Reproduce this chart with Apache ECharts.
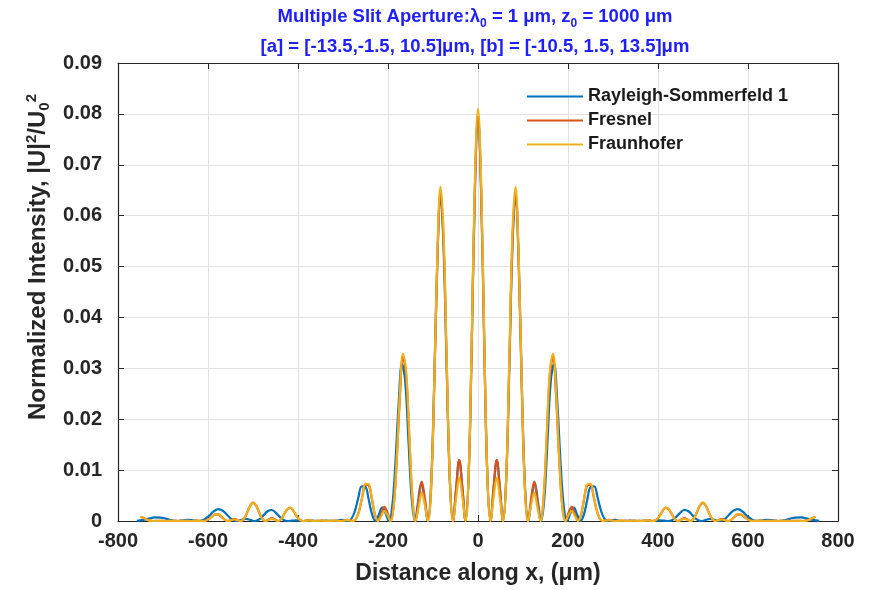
<!DOCTYPE html>
<html>
<head>
<meta charset="utf-8">
<script src="https://cdn.jsdelivr.net/npm/echarts@6/dist/echarts.min.js"></script>
<style>
html,body{margin:0;padding:0;background:#fff;}
#chart{width:869px;height:590px;}
</style>
</head>
<body>
<div id="chart"></div>
<script>
// Sample positions (µm) shared by the Fresnel and Fraunhofer curves
const distanceX = [
-750,-743.1,-736.1,-729.2,-722.2,-715.3,-708.3,-701.4,-694.4,-687.5,-680.6,-673.6,-666.7,-659.7,-652.8,-645.8,-638.9,-631.9,-625,-618.1,-611.1,-604.2,-597.2,-590.3,-583.3,-576.4,-569.4,-562.5,-555.6,-548.6,-541.7,-534.7,-527.8,-520.8,-513.9,-506.9,-500,-493.1,-486.1,-479.2,-472.2,-465.3,-458.3,-451.4,-444.4,-437.5,-430.6,-423.6,-416.7,-409.7,-402.8,-395.8,-388.9,-381.9,-375,-368.1,-361.1,-354.2,-347.2,-340.3,-333.3,-326.4,-319.4,-312.5,-305.6,-298.6,-291.7,-284.7,-277.8,-270.8,-263.9,-256.9,-250,-243.1,-236.1,-229.2,-222.2,-215.3,-208.3,-201.4,-194.4,-187.5,-180.6,-173.6,-166.7,-159.7,-152.8,-145.8,-138.9,-131.9,-125,-118.1,-111.1,-104.2,-97.2,-90.3,-83.3,-76.4,-69.4,-62.5,-55.6,-48.6,-41.7,-34.7,-27.8,-20.8,-13.9,-6.9,
0,
6.9,13.9,20.8,27.8,34.7,41.7,48.6,55.6,62.5,69.4,76.4,83.3,90.3,97.2,104.2,111.1,118.1,125,131.9,138.9,145.8,152.8,159.7,166.7,173.6,180.6,187.5,194.4,201.4,208.3,215.3,222.2,229.2,236.1,243.1,250,256.9,263.9,270.8,277.8,284.7,291.7,298.6,305.6,312.5,319.4,326.4,333.3,340.3,347.2,354.2,361.1,368.1,375,381.9,388.9,395.8,402.8,409.7,416.7,423.6,430.6,437.5,444.4,451.4,458.3,465.3,472.2,479.2,486.1,493.1,500,506.9,513.9,520.8,527.8,534.7,541.7,548.6,555.6,562.5,569.4,576.4,583.3,590.3,597.2,604.2,611.1,618.1,625,631.9,638.9,645.8,652.8,659.7,666.7,673.6,680.6,687.5,694.4,701.4,708.3,715.3,722.2,729.2,736.1,743.1,750
];

const fraunhoferI = [
0.00081,0.0006,0.00028,0.00006,0,0.00002,0.00003,0.00001,0,0.00001,0.00001,0.00001,0,0.00001,0.00002,0.00001,0,0.00001,0.00004,0.00003,0,0.00009,0.00042,0.00094,0.00134,0.00129,0.00079,0.00022,0,0.00015,0.00029,0.00017,0,0.00036,0.00151,0.00293,0.00365,0.0031,0.00169,0.00042,0,0.00022,0.00041,0.00021,0,0.00037,0.00138,0.00238,0.00263,0.00196,0.00093,0.0002,0,0.00007,0.00011,0.00004,0,0.00003,0.00006,0.00003,0,0.00003,0.00007,0.00004,0,0.00006,0.00017,0.00013,0,0.00043,0.00216,0.00498,0.00729,0.00724,0.00458,0.00133,0,0.00094,0.00199,0.0012,0,0.00277,0.01222,0.02498,0.03283,0.02952,0.01707,0.00458,0,0.0028,0.00553,0.00313,0,0.00646,0.02699,0.05245,0.06566,0.05634,0.03114,0.00801,0,0.0045,0.00855,0.00465,0,0.00889,0.03579,0.06708,
0.081,
0.06708,0.03579,0.00889,0,0.00465,0.00855,0.0045,0,0.00801,0.03114,0.05634,0.06566,0.05245,0.02699,0.00646,0,0.00313,0.00553,0.0028,0,0.00458,0.01707,0.02952,0.03283,0.02498,0.01222,0.00277,0,0.0012,0.00199,0.00094,0,0.00133,0.00458,0.00724,0.00729,0.00498,0.00216,0.00043,0,0.00013,0.00017,0.00006,0,0.00004,0.00007,0.00003,0,0.00003,0.00006,0.00003,0,0.00004,0.00011,0.00007,0,0.0002,0.00093,0.00196,0.00263,0.00238,0.00138,0.00037,0,0.00021,0.00041,0.00022,0,0.00042,0.00169,0.0031,0.00365,0.00293,0.00151,0.00036,0,0.00017,0.00029,0.00015,0,0.00022,0.00079,0.00129,0.00134,0.00094,0.00042,0.00009,0,0.00003,0.00004,0.00001,0,0.00001,0.00002,0.00001,0,0.00001,0.00001,0.00001,0,0.00001,0.00003,0.00002,0,0.00006,0.00028,0.0006,0.00081
];

const fresnelI = [
0.00079,0.00058,0.00027,0.00006,0,0.00003,0.00004,0.00001,0,0.00001,0.00001,0.00001,0,0.00001,0.00002,0.00001,0,0.00001,0.00006,0.00004,0,0.00009,0.00041,0.00091,0.00131,0.00125,0.00077,0.00022,0,0.00021,0.00041,0.00024,0,0.00036,0.00146,0.00284,0.00358,0.00301,0.00164,0.00042,0,0.00031,0.00057,0.00029,0,0.00037,0.00134,0.00231,0.00258,0.0019,0.0009,0.0002,0,0.0001,0.00015,0.00006,0,0.00003,0.00006,0.00003,0,0.00003,0.00007,0.00004,0,0.00008,0.00024,0.00018,0,0.00043,0.0021,0.00483,0.00714,0.00702,0.00444,0.00133,0,0.00132,0.00279,0.00168,0,0.00277,0.01185,0.02423,0.03217,0.02863,0.01656,0.00458,0,0.00392,0.00774,0.00438,0,0.00646,0.02618,0.05088,0.06435,0.05465,0.03021,0.00801,0,0.0063,0.01197,0.00651,0,0.00889,0.03472,0.06507,
0.07938,
0.06507,0.03472,0.00889,0,0.00651,0.01197,0.0063,0,0.00801,0.03021,0.05465,0.06435,0.05088,0.02618,0.00646,0,0.00438,0.00774,0.00392,0,0.00458,0.01656,0.02863,0.03217,0.02423,0.01185,0.00277,0,0.00168,0.00279,0.00132,0,0.00133,0.00444,0.00702,0.00714,0.00483,0.0021,0.00043,0,0.00018,0.00024,0.00008,0,0.00004,0.00007,0.00003,0,0.00003,0.00006,0.00003,0,0.00006,0.00015,0.0001,0,0.0002,0.0009,0.0019,0.00258,0.00231,0.00134,0.00037,0,0.00029,0.00057,0.00031,0,0.00042,0.00164,0.00301,0.00358,0.00284,0.00146,0.00036,0,0.00024,0.00041,0.00021,0,0.00022,0.00077,0.00125,0.00131,0.00091,0.00041,0.00009,0,0.00004,0.00006,0.00001,0,0.00001,0.00002,0.00001,0,0.00001,0.00001,0.00001,0,0.00001,0.00004,0.00003,0,0.00006,0.00027,0.00058,0.00079
];

// Rayleigh-Sommerfeld curve has its own sample positions (µm)
const rsX = [
-758.2,-744.6,-731.3,-718.2,-705.4,-692.7,-680.3,-668.2,-656.2,-644.4,-632.8,-621.4,-610.1,-599,-588.1,-577.4,-566.7,-556.3,-545.9,-535.7,-525.6,-515.7,-505.9,-496.1,-486.5,-477,-467.6,-458.4,-449.2,-440.1,-431,-422.1,-413.3,-404.5,-395.9,-387.2,-378.7,-370.3,-361.9,-353.6,-345.3,-337.1,-329,-320.9,-312.9,-304.9,-297,-289.2,-281.4,-273.6,-265.9,-258.2,-250.6,-243,-235.4,-227.9,-220.5,-213,-205.6,-198.2,-190.9,-183.6,-176.3,-169,-161.8,-154.6,-147.4,-140.3,-133.1,-126,-118.9,-111.8,-104.7,-97.7,-90.7,-83.6,-76.6,-69.6,-62.6,-55.6,-48.7,-41.7,-34.7,-27.8,-20.8,-13.9,-6.9,
0,
6.9,13.9,20.8,27.8,34.7,41.7,48.7,55.6,62.6,69.6,76.6,83.6,90.7,97.7,104.7,111.8,118.9,126,133.1,140.3,147.4,154.6,161.8,169,176.3,183.6,190.9,198.2,205.6,213,220.5,227.9,235.4,243,250.6,258.2,265.9,273.6,281.4,289.2,297,304.9,312.9,320.9,329,337.1,345.3,353.6,361.9,370.3,378.7,387.2,395.9,404.5,413.3,422.1,431,440.1,449.2,458.4,467.6,477,486.5,496.1,505.9,515.7,525.6,535.7,545.9,556.3,566.7,577.4,588.1,599,610.1,621.4,632.8,644.4,656.2,668.2,680.3,692.7,705.4,718.2,731.3,744.6,758.2
];

const rsI = [
0.00005,0.00021,0.00048,0.0007,0.00068,0.00043,0.00012,0,0.00012,0.00024,0.00014,0,0.00022,0.00092,0.00182,0.00233,0.00198,0.00109,0.00028,0,0.00022,0.0004,0.00021,0,0.0003,0.0011,0.00191,0.00216,0.0016,0.00077,0.00017,0,0.00008,0.00012,0.00005,0,0.00002,0.00005,0.00002,0,0.00002,0.00006,0.00003,0,0.00007,0.00021,0.00016,0,0.0004,0.00197,0.00458,0.0068,0.00673,0.00427,0.00129,0,0.00123,0.00261,0.00158,0,0.00263,0.01127,0.02314,0.03084,0.02754,0.01598,0.00443,0,0.00382,0.00756,0.00429,0,0.00636,0.02581,0.05026,0.06368,0.05417,0.02999,0.00796,0,0.00628,0.01194,0.0065,0,0.00888,0.03471,0.06507,
0.07938,
0.06507,0.03471,0.00888,0,0.0065,0.01194,0.00628,0,0.00796,0.02999,0.05417,0.06368,0.05026,0.02581,0.00636,0,0.00429,0.00756,0.00382,0,0.00443,0.01598,0.02754,0.03084,0.02314,0.01127,0.00263,0,0.00158,0.00261,0.00123,0,0.00129,0.00427,0.00673,0.0068,0.00458,0.00197,0.0004,0,0.00016,0.00021,0.00007,0,0.00003,0.00006,0.00002,0,0.00002,0.00005,0.00002,0,0.00005,0.00012,0.00008,0,0.00017,0.00077,0.0016,0.00216,0.00191,0.0011,0.0003,0,0.00021,0.0004,0.00022,0,0.00028,0.00109,0.00198,0.00233,0.00182,0.00092,0.00022,0,0.00014,0.00024,0.00012,0,0.00012,0.00043,0.00068,0.0007,0.00048,0.00021,0.00005
];

const seriesNames = ['Rayleigh-Sommerfeld 1', 'Fresnel', 'Fraunhofer'];
const seriesColors = ['#0072BD', '#D95319', '#EDB120'];
const xTicks = { min: -800, max: 800, interval: 200 };
const yTicks = { min: 0, max: 0.09, interval: 0.01 };

const FONT = '"Liberation Sans", Arial, Helvetica, sans-serif';
const AXIS_COLOR = '#262626';
const TITLE_COLOR = '#2020f4';

function pairs(xs, ys) { return xs.map((x, i) => [x, ys[i]]); }

const chart = echarts.init(document.getElementById('chart'), null, { renderer: 'canvas' });

const baseX = { type: 'value', min: xTicks.min, max: xTicks.max, interval: xTicks.interval };
const baseY = { type: 'value', min: yTicks.min, max: yTicks.max, interval: yTicks.interval };

const option = {
  backgroundColor: '#ffffff',
  animation: false,
  grid: { left: 118, right: 31, top: 63, bottom: 69, containLabel: false },
  legend: {
    data: seriesNames,
    orient: 'vertical',
    left: 527,
    top: 87,
    padding: 0,
    icon: 'rect',
    itemWidth: 56,
    itemHeight: 2,
    itemGap: 5,
    textStyle: { fontFamily: FONT, fontWeight: 'bold', fontSize: 18, lineHeight: 19, color: '#1a1a1a' }
  },
  xAxis: [
    Object.assign({}, baseX, {
      position: 'bottom',
      name: 'Distance along x, (μm)',
      nameLocation: 'middle',
      nameGap: 41,
      nameTextStyle: { fontFamily: FONT, fontWeight: 'bold', fontSize: 23, color: '#262626' },
      axisLine: { show: true, onZero: false, lineStyle: { color: AXIS_COLOR, width: 1.2 } },
      axisTick: { show: true, inside: true, length: 6, lineStyle: { color: AXIS_COLOR } },
      axisLabel: { fontFamily: FONT, fontWeight: 'bold', fontSize: 20, color: '#262626', margin: 10 },
      splitLine: { show: true, lineStyle: { color: '#e2e2e2', width: 1 } }
    }),
    Object.assign({}, baseX, {
      position: 'top',
      axisLine: { show: true, onZero: false, lineStyle: { color: AXIS_COLOR, width: 1.2 } },
      axisTick: { show: true, inside: true, length: 6, lineStyle: { color: AXIS_COLOR } },
      axisLabel: { show: false },
      splitLine: { show: false }
    })
  ],
  yAxis: [
    Object.assign({}, baseY, {
      position: 'left',
      axisLine: { show: true, onZero: false, lineStyle: { color: AXIS_COLOR, width: 1.2 } },
      axisTick: { show: true, inside: true, length: 6, lineStyle: { color: AXIS_COLOR } },
      axisLabel: {
        fontFamily: FONT, fontWeight: 'bold', fontSize: 20, color: '#262626', margin: 16,
        formatter: v => (v === 0 ? '0' : v.toFixed(2))
      },
      splitLine: { show: true, lineStyle: { color: '#e2e2e2', width: 1 } }
    }),
    Object.assign({}, baseY, {
      position: 'right',
      axisLine: { show: true, onZero: false, lineStyle: { color: AXIS_COLOR, width: 1.2 } },
      axisTick: { show: true, inside: true, length: 6, lineStyle: { color: AXIS_COLOR } },
      axisLabel: { show: false },
      splitLine: { show: false }
    })
  ],
  series: [
    { name: seriesNames[0], type: 'line', data: pairs(rsX, rsI), color: seriesColors[0] },
    { name: seriesNames[1], type: 'line', data: pairs(distanceX, fresnelI), color: seriesColors[1] },
    { name: seriesNames[2], type: 'line', data: pairs(distanceX, fraunhoferI), color: seriesColors[2] }
  ].map(s => Object.assign(s, {
    xAxisIndex: 0, yAxisIndex: 0, showSymbol: false, smooth: 0.4, clip: true,
    lineStyle: { width: 2.2, color: s.color }, itemStyle: { color: s.color }
  })),
  graphic: [
    {
      type: 'text', x: 475, y: 2, silent: true,
      style: {
        text: '{a|Multiple Slit Aperture:λ}{s|0}{a| = 1 μm, z}{s|0}{a| = 1000 μm}\n{a|[a] = [-13.5,-1.5, 10.5]μm, [b] = [-10.5, 1.5, 13.5]μm}',
        align: 'center', verticalAlign: 'top',
        rich: {
          a: { fontFamily: FONT, fontWeight: 'bold', fontSize: 18.5, lineHeight: 30, fill: TITLE_COLOR },
          s: { fontFamily: FONT, fontWeight: 'bold', fontSize: 12, lineHeight: 13, padding: [13, 0, 0, 0], fill: TITLE_COLOR }
        }
      }
    },
    {
      type: 'text', x: 38, y: 257, rotation: Math.PI / 2, silent: true,
      style: {
        text: '{a|Normalized Intensity, |U|}{p|2}{a|/U}{s|0}{p|2}',
        align: 'center', verticalAlign: 'middle',
        rich: {
          a: { fontFamily: FONT, fontWeight: 'bold', fontSize: 24, fill: '#262626' },
          p: { fontFamily: FONT, fontWeight: 'bold', fontSize: 15, lineHeight: 15, padding: [0, 0, 13, 0], fill: '#262626' },
          s: { fontFamily: FONT, fontWeight: 'bold', fontSize: 15, lineHeight: 15, padding: [13, 0, 0, 0], fill: '#262626' }
        }
      }
    }
  ]
};

chart.setOption(option);
</script>
</body>
</html>
